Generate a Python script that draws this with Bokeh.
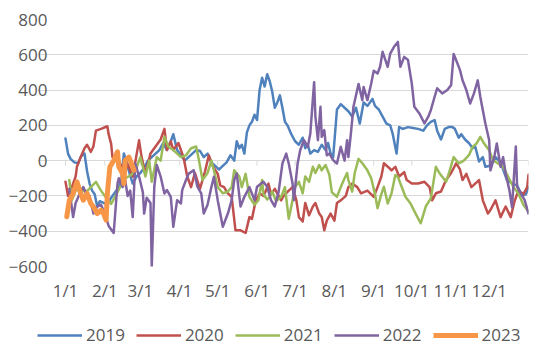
from bokeh.plotting import figure
from bokeh.models import Range1d, FixedTicker, Legend, LegendItem
from bokeh.layouts import column
from bokeh.embed import file_html
from bokeh.resources import INLINE

# ---- data (day of year, value) ----
month_days = [0, 31, 59, 90, 120, 151, 181, 212, 243, 273, 304, 334]
month_labels = ["1/1", "2/1", "3/1", "4/1", "5/1", "6/1", "7/1", "8/1", "9/1", "10/1", "11/1", "12/1"]
y_ticks = [-600, -400, -200, 0, 200, 400, 600, 800]
year_start, year_end = 0, 365

days_2019 = [0,2,4,7,10,12,13,15,17,19,21,23,25,27,30,33,36,39,42,44,46,48,50,53,56,59,62,65,68,71,74,77,80,83,85,88,91,94,97,100,103,106,109,112,115,118,121,124,127,130,133,135,137,139,141,143,145,147,149,151,153,155,157,159,161,163,165,167,169,171,173,175,178,181,184,187,189,191,193,196,199,202,205,207,209,211,214,217,220,223,226,229,232,235,238,242,244,247,250,253,256,258,261,263,266,270,274,278,282,285,288,291,293,296,299,302,305,307,310,312,315,318,321,323,326,329,331,334,337,339,343,348,352,356,360,363,365]
vals_2019 = [125,40,10,-10,-15,20,30,40,-60,-130,-170,-190,-260,-230,-240,-250,-210,-180,-150,-110,40,0,-60,-130,-90,-70,-40,0,20,40,60,100,60,110,150,60,30,0,20,40,60,55,20,40,-10,-30,-50,-30,-10,30,0,110,70,90,40,160,200,220,260,230,400,470,420,490,450,390,300,330,370,300,220,200,150,110,90,130,70,90,40,60,50,90,60,100,40,20,290,320,300,280,250,300,210,330,310,350,310,290,250,210,200,150,40,190,180,190,185,180,170,200,220,230,170,120,180,190,190,180,130,150,120,100,70,80,-5,20,-35,-30,0,20,-10,-110,-130,-140,-200,-190,-150]

days_2020 = [0,2,5,8,9,12,15,17,20,22,24,28,33,34,36,37,39,42,44,47,49,53,58,60,63,67,71,75,78,80,83,85,89,93,96,99,102,106,110,113,116,120,122,125,128,131,134,138,142,145,147,150,153,156,158,160,162,165,170,172,176,179,182,184,187,189,192,195,197,200,202,204,206,209,212,214,217,221,223,226,230,233,238,243,246,249,251,255,257,260,263,267,269,273,278,283,287,289,292,296,300,304,308,311,313,316,320,326,329,333,335,339,343,347,351,354,357,361,364,365]
vals_2020 = [-120,-200,-150,-90,-35,20,70,90,50,80,170,180,195,150,95,20,20,0,-30,-60,-20,-90,115,20,-75,40,80,120,180,60,110,60,100,20,-90,-150,-70,-160,-60,30,-30,-75,-140,-150,-185,-205,-395,-395,-410,-320,-330,-225,-185,-200,-170,-130,-190,-160,-225,-200,-170,-150,-225,-320,-345,-240,-310,-260,-240,-300,-320,-395,-340,-300,-340,-240,-225,-200,-150,-130,-150,-185,-170,-205,-150,-90,-15,-40,-55,-35,-90,-65,-110,-130,-130,-120,-150,-225,-185,-175,-110,-70,-15,-50,-110,-75,-150,-110,-225,-300,-280,-225,-320,-260,-320,-230,-170,-190,-150,-80]

days_2021 = [3,5,8,12,16,20,24,28,31,36,39,43,47,52,56,59,63,66,68,72,75,78,81,85,91,95,99,103,105,108,112,115,117,120,124,128,131,133,137,139,142,145,149,152,155,156,159,161,163,166,170,173,176,179,181,184,187,189,192,195,197,200,202,205,208,210,214,217,220,222,223,226,228,231,234,238,241,244,246,249,251,254,257,260,262,265,268,272,276,280,284,288,292,295,300,303,306,310,314,318,321,324,327,330,334,337,341,345,349,353,357,361,365]
vals_2021 = [-110,-225,-170,-160,-180,-150,-120,-170,-200,-245,-205,-150,-100,-80,-40,20,-90,0,-120,20,0,135,80,60,20,30,70,80,10,-110,-70,0,-55,-150,-185,-175,-150,-55,-90,-150,-75,-205,-250,-225,-110,-190,-220,-205,-175,-230,-205,-150,-330,-225,-150,-120,-185,-90,-120,-35,-70,-25,-55,-25,-80,-180,-205,-150,-100,-70,-110,-175,-70,10,-15,-55,-100,-190,-270,-190,-148,-243,-186,-82,-92,-148,-205,-243,-300,-355,-260,-214,-35,-73,-120,-54,20,-16,0,31,78,97,135,97,59,3,-16,-35,-92,-148,-186,-250,-290]

days_2022 = [3,6,8,11,14,16,19,22,25,28,31,34,38,41,42,45,47,49,51,53,55,58,61,62,64,67,68,70,72,75,78,80,83,85,88,91,92,95,97,101,104,107,109,112,115,117,120,124,128,131,133,135,138,141,145,149,151,156,159,162,165,168,171,174,176,179,180,183,185,188,191,193,196,197,199,201,202,204,206,208,211,214,217,220,222,223,225,227,231,234,235,238,241,243,246,248,250,254,256,259,262,264,267,270,273,275,279,283,286,288,291,293,297,301,304,306,309,311,313,316,319,322,325,327,329,331,334,335,338,340,343,345,347,350,352,355,356,359,362,365]
vals_2022 = [-160,-320,-240,-190,-150,-180,-200,-300,-260,-250,-300,-370,-410,-130,-100,-150,-110,-200,-170,-320,-16,-90,-180,-300,-210,-240,-600,-148,-25,-90,-186,-167,-205,-375,-224,-243,-167,-110,-75,-54,-148,-186,-300,-250,-150,-92,-224,-375,-300,-224,-110,-73,-260,-205,-150,-224,-148,-120,-148,-224,-260,-177,-16,40,-16,-130,-224,-16,59,116,78,154,445,250,116,305,135,173,30,40,3,-16,78,0,116,20,154,305,435,343,418,343,437,510,494,532,617,532,607,645,673,532,588,570,437,305,267,211,249,286,362,410,381,400,428,605,551,513,456,400,324,381,455,362,286,210,116,-55,20,97,-35,20,-73,-170,-265,80,-148,-186,-224,-300]

days_2023 = [1,3,6,9,12,14,17,20,22,25,28,30,32,33,35,38,41,42,45,46,47,50,52,54]
vals_2023 = [-318,-225,-186,-120,-186,-224,-186,-243,-262,-300,-280,-300,-337,-186,-35,0,50,-35,-73,-130,0,20,-16,-54]

series = [
    ("2019", days_2019, vals_2019, "#4F81BD", 2.5),
    ("2020", days_2020, vals_2020, "#C0504D", 2.5),
    ("2021", days_2021, vals_2021, "#9BBB59", 2.5),
    ("2022", days_2022, vals_2022, "#8064A2", 2.5),
    ("2023", days_2023, vals_2023, "#F79646", 5),
]

FONT = "Open Sans"
TXT = "#595959"
GRID = "#d9d9d9"

# frame spans 37..528 px; the plotted year (day 0..365) occupies 65..528 px
x_start = -(65 - 37) * (year_end - year_start) / (528 - 65)

p = figure(width=550, height=310, output_backend="svg", toolbar_location=None,
           x_range=Range1d(x_start, year_end), y_range=Range1d(-600, 800),
           min_border_left=37, min_border_right=22, min_border_top=19, min_border_bottom=44)
p.outline_line_color = None
p.background_fill_color = "white"
p.border_fill_color = "white"

# y axis
p.yaxis.ticker = FixedTicker(ticks=y_ticks)
p.yaxis.axis_line_color = None
p.yaxis.major_tick_line_color = None
p.yaxis.minor_tick_line_color = None
p.yaxis.major_tick_out = 0
p.yaxis.major_tick_in = 0
p.yaxis.major_label_standoff = -10
p.yaxis.major_label_text_font = FONT
p.yaxis.major_label_text_font_size = "17px"
p.yaxis.major_label_text_color = TXT
p.ygrid.ticker = FixedTicker(ticks=y_ticks)
p.ygrid.grid_line_color = GRID
p.ygrid.grid_line_width = 1
p.ygrid.bounds = (year_start, year_end)

# x axis
p.xaxis.ticker = FixedTicker(ticks=month_days)
p.xaxis.major_label_overrides = {d: l for d, l in zip(month_days, month_labels)}
p.xaxis.axis_line_color = None
p.xaxis.major_tick_line_color = None
p.xaxis.minor_tick_line_color = None
p.xaxis.major_tick_out = 0
p.xaxis.major_tick_in = 0
p.xaxis.major_label_standoff = 12
p.xaxis.major_label_text_font = FONT
p.xaxis.major_label_text_font_size = "17px"
p.xaxis.major_label_text_color = TXT
p.xgrid.grid_line_color = None

# small tick marks on the zero line
tick_x = month_days + [year_end]
p.segment(x0=tick_x, y0=[0] * len(tick_x), x1=tick_x, y1=[-28] * len(tick_x),
          line_color=GRID, line_width=1)

for name, d, v, c, w in series:
    p.line(d, v, line_color=c, line_width=w, line_join="round", line_cap="round")

# legend strip below the chart
lg = figure(width=550, height=53, output_backend="svg", toolbar_location=None,
            x_range=Range1d(0, 1), y_range=Range1d(0, 1),
            x_axis_type=None, y_axis_type=None,
            min_border_left=37, min_border_right=22, min_border_top=0, min_border_bottom=0)
lg.outline_line_color = None
lg.grid.visible = False
items = []
for name, d, v, c, w in series:
    r = lg.line(x=[5, 6], y=[5, 6], line_color=c, line_width=w)
    items.append(LegendItem(label=name, renderers=[r]))
legend = Legend(items=items, orientation="horizontal", location=(0, 17),
                glyph_width=45, glyph_height=20, label_standoff=4, spacing=11,
                padding=0, margin=0, border_line_color=None, background_fill_alpha=0,
                label_text_font=FONT, label_text_font_size="17px", label_text_color=TXT)
lg.add_layout(legend, "center")

layout = column(p, lg, spacing=0)
open("out.html", "w").write(file_html(layout, INLINE))
